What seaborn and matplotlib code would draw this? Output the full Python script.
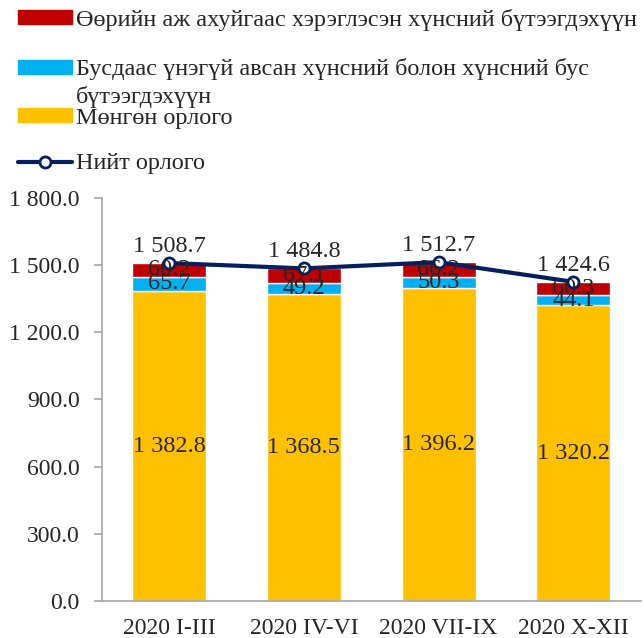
import matplotlib
matplotlib.use("Agg")
import matplotlib.pyplot as plt
import seaborn as sns
from matplotlib.patches import Patch, Rectangle
from matplotlib.lines import Line2D
from matplotlib.legend_handler import HandlerPatch

# data
periods = ["2020 I-III", "2020 IV-VI", "2020 VII-IX", "2020 X-XII"]
money_income = [1382.8, 1368.5, 1396.2, 1320.2]
free_goods = [65.7, 49.2, 50.3, 44.1]
own_farm = [60.2, 67.1, 66.2, 60.3]
total_income = [1508.7, 1484.8, 1512.7, 1424.6]
yticks = [0, 300, 600, 900, 1200, 1500, 1800]

labels = [
    "Өөрийн аж ахуйгаас хэрэглэсэн хүнсний бүтээгдэхүүн",
    "Бусдаас үнэгүй авсан хүнсний болон хүнсний бус\nбүтээгдэхүүн",
    "Мөнгөн орлого",
    "Нийт орлого",
]

c_red, c_blue, c_yellow, c_line = "#C00000", "#00B0F0", "#FFC000", "#002060"
gray = "#A6A6A6"

sns.set_style("white")
plt.rcParams["font.family"] = ["Liberation Serif", "DejaVu Serif"]
plt.rcParams["font.size"] = 17

fig = plt.figure(figsize=(6.44, 6.38), dpi=100)
ax = fig.add_axes([0.158, 0.058, 0.837, 0.632])

bottom2 = [a + b for a, b in zip(money_income, free_goods)]
sns.barplot(x=periods, y=money_income, color=c_yellow, width=0.55,
            saturation=1, ax=ax)
sns.barplot(x=periods, y=free_goods, bottom=money_income, color=c_blue,
            width=0.55, saturation=1, ax=ax)
sns.barplot(x=periods, y=own_farm, bottom=bottom2, color=c_red, width=0.55,
            saturation=1, ax=ax)
sns.lineplot(x=range(len(periods)), y=total_income, color=c_line, lw=3,
             marker="o", markersize=8, markerfacecolor="white",
             markeredgecolor=c_line, markeredgewidth=2, ax=ax, zorder=5)


def fmt(v):
    return f"{v:,.1f}".replace(",", " ")


lab_size = 17.5
for i in range(len(periods)):
    ax.text(i, money_income[i] / 2, fmt(money_income[i]), ha="center",
            va="center", fontsize=lab_size, zorder=6)
    ax.text(i, money_income[i] + free_goods[i] / 2, fmt(free_goods[i]),
            ha="center", va="center", fontsize=lab_size, zorder=6)
    ax.text(i, bottom2[i] + own_farm[i] / 2, fmt(own_farm[i]), ha="center",
            va="center", fontsize=lab_size, zorder=6)
    ax.annotate(fmt(total_income[i]), (i, total_income[i]),
                xytext=(0, 12), textcoords="offset points", ha="center",
                va="center", fontsize=lab_size, zorder=6)

ax.set_ylim(0, 1800)
ax.set_xlim(-0.5, 3.5)
ax.set_yticks(yticks)
ax.set_yticklabels([fmt(v) for v in yticks])
ax.set_xticks(range(len(periods)))
ax.set_xticklabels(periods)
ax.set_xticks([-0.5, 0.5, 1.5, 2.5, 3.5], minor=True)
ax.tick_params(axis="x", which="major", length=0, pad=12)
ax.tick_params(axis="x", which="minor", length=6, color=gray, width=1.2)
ax.tick_params(axis="y", length=6, color=gray, width=1.2, left=True, pad=10)
for side in ["top", "right"]:
    ax.spines[side].set_visible(False)
for side in ["left", "bottom"]:
    ax.spines[side].set_color(gray)
    ax.spines[side].set_linewidth(1.2)


# patch of the wrapped entry sits next to its first text line
def raised_patch(legend, orig_handle, xdescent, ydescent, width, height,
                 fontsize):
    return Rectangle((-xdescent, -ydescent + 11), width, height)


# legend entries placed one by one to follow the uneven spacing
handles = [
    Patch(color=c_red),
    Patch(color=c_blue),
    Patch(color=c_yellow),
    Line2D([], [], color=c_line, lw=3, marker="o", markersize=8,
           markerfacecolor="white", markeredgewidth=2),
]
leg_y = [0.969, 0.909, 0.815, 0.743]
for h, lab, y in zip(handles, labels, leg_y):
    wrapped = "\n" in lab
    hmap = {Patch: HandlerPatch(patch_func=raised_patch)} if wrapped else None
    leg = fig.legend([h], [lab], loc="upper left" if wrapped else "center left",
                     bbox_to_anchor=(0.028, y), frameon=False, fontsize=17.5,
                     handlelength=2.2, handleheight=0.5, handletextpad=0.2,
                     borderpad=0, borderaxespad=0, labelspacing=0,
                     handler_map=hmap)
    if wrapped:
        leg.get_texts()[0].set_linespacing(1.35)

fig.savefig("out.png", dpi=100)
